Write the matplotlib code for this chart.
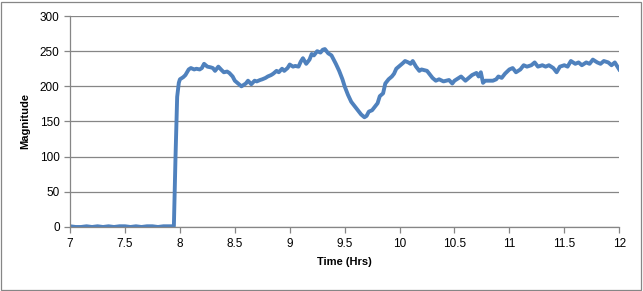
import matplotlib
matplotlib.use("Agg")
import matplotlib.pyplot as plt
from matplotlib.patches import Rectangle

# Time (hrs) and magnitude
time_hrs = [7.0, 7.05, 7.1, 7.15, 7.2, 7.25, 7.3, 7.35, 7.4, 7.45, 7.5, 7.55,
            7.6, 7.65, 7.7, 7.75, 7.8, 7.85, 7.9, 7.945, 7.96, 7.975, 7.99,
            8.0, 8.03, 8.05, 8.08, 8.1, 8.13, 8.15, 8.18, 8.2, 8.22, 8.25,
            8.28, 8.3, 8.32, 8.35, 8.38, 8.4, 8.43, 8.45, 8.48, 8.5, 8.53,
            8.56, 8.58, 8.6, 8.62, 8.65, 8.68, 8.7, 8.73, 8.75, 8.78, 8.8,
            8.83, 8.85, 8.88, 8.9, 8.93, 8.95, 8.98, 9.0, 9.03, 9.05, 9.08,
            9.1, 9.12, 9.15, 9.18, 9.2, 9.22, 9.25, 9.28, 9.3, 9.32, 9.35,
            9.38, 9.4, 9.42, 9.45, 9.48, 9.5, 9.53, 9.56, 9.6, 9.63, 9.65,
            9.68, 9.7, 9.72, 9.75, 9.78, 9.8, 9.82, 9.85, 9.87, 9.9, 9.93,
            9.95, 9.97, 10.0, 10.03, 10.05, 10.08, 10.1, 10.12, 10.15, 10.18,
            10.2, 10.25, 10.28, 10.3, 10.33, 10.36, 10.4, 10.45, 10.48, 10.5,
            10.53, 10.56, 10.6, 10.63, 10.66, 10.7, 10.72, 10.74, 10.76,
            10.78, 10.82, 10.85, 10.88, 10.9, 10.93, 10.96, 11.0, 11.03,
            11.06, 11.1, 11.13, 11.16, 11.2, 11.23, 11.26, 11.3, 11.33,
            11.36, 11.4, 11.43, 11.46, 11.5, 11.53, 11.56, 11.6, 11.63,
            11.66, 11.7, 11.73, 11.76, 11.8, 11.83, 11.86, 11.9, 11.93,
            11.96, 12.0]
magnitude = [1, 0, 0, 1, 0, 1, 0, 1, 0, 1, 1, 0,
             1, 0, 1, 1, 0, 1, 1, 1, 100, 185, 205,
             210, 213, 216, 224, 226, 224, 225, 224, 226, 232, 228,
             227, 226, 222, 228, 223, 220, 221, 219, 214, 208, 204,
             200, 202, 204, 208, 203, 208, 207, 209, 210, 212, 214,
             216, 218, 222, 220, 225, 222, 226, 231, 228, 229, 228,
             235, 240, 232, 238, 246, 244, 250, 248, 252, 253, 247,
             244, 238, 232, 222, 210, 200, 188, 178, 170, 164, 160,
             156, 158, 164, 166, 172, 176, 186, 190, 204, 210, 214,
             218, 225, 229, 233, 236, 234, 232, 236, 228, 222,
             224, 222, 216, 212, 208, 210, 207, 209, 204, 208,
             211, 214, 208, 212, 216, 219, 214, 220, 205,
             208, 208, 208, 210, 214, 212, 218, 224, 226,
             220, 224, 230, 228, 230, 234, 228, 230, 228,
             230, 226, 220, 228, 230, 228, 236, 232, 234,
             230, 234, 232, 238, 234, 232, 236, 234, 230,
             234, 224]

x_ticks = [7, 7.5, 8, 8.5, 9, 9.5, 10, 10.5, 11, 11.5, 12]
x_labels = ["7", "7.5", "8", "8.5", "9", "9.5", "10", "10.5", "11", "11.5", "12"]
y_ticks = [0, 50, 100, 150, 200, 250, 300]

plt.rcParams['font.family'] = ['Liberation Sans', 'DejaVu Sans']

fig = plt.figure(figsize=(6.43, 2.91), dpi=100)
ax = fig.add_axes([0.109, 0.22, 0.854, 0.725])

ax.plot(time_hrs, magnitude, color='#4F81BD', linewidth=2.8, solid_joinstyle='round')

ax.set_xlim(7, 12)
ax.set_ylim(0, 300)
ax.set_xticks(x_ticks)
ax.set_xticklabels(x_labels)
ax.set_yticks(y_ticks)
ax.grid(axis='y', color='#868686', linewidth=0.9)
ax.set_axisbelow(True)

for side in ['top', 'right']:
    ax.spines[side].set_visible(False)
for side in ['left', 'bottom']:
    ax.spines[side].set_color('#868686')
    ax.spines[side].set_linewidth(0.9)
ax.tick_params(axis='both', colors='#868686', labelcolor='black',
               labelsize=8.5, length=4, width=0.9, direction='out')
ax.tick_params(axis='x', pad=4)

ax.set_xlabel('Time (Hrs)', fontsize=8, fontweight='bold', labelpad=5)
ax.set_ylabel('Magnitude', fontsize=8, fontweight='bold', labelpad=7)

# outer chart border
fig.patches.append(Rectangle((0.002, 0.004), 0.995, 0.99, transform=fig.transFigure,
                             fill=False, edgecolor='#868686', linewidth=0.9))

fig.savefig('out.png', dpi=100)
